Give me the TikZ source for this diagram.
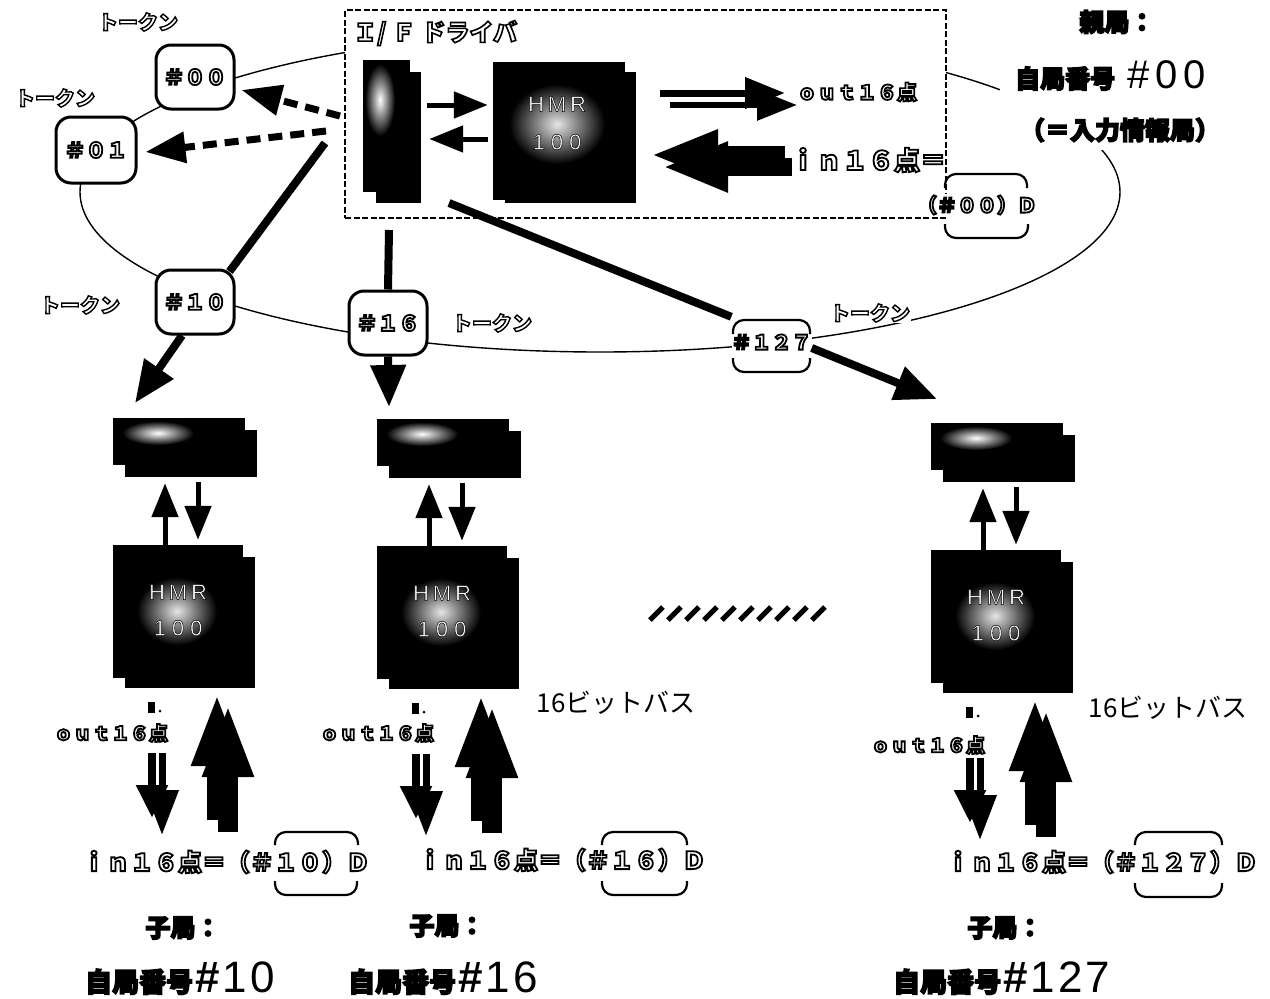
\documentclass[tikz,border=0pt]{standalone}
\usepackage{fontspec}
\setmainfont{Noto Sans CJK JP}
\newfontfamily\hel{Liberation Sans}
\usetikzlibrary{arrows.meta}
\def\olwd{1.8}
\newcommand\olt[1]{{\color{white}\special{pdf:literal direct q 0 G 2 Tr \olwd\space w}#1\special{pdf:literal direct Q}}}
\newcommand\hvy[1]{{\special{pdf:literal direct q 0 G 2 Tr 1.4 w}#1\special{pdf:literal direct Q}}}
\newcommand\tokt{{\def\olwd{1.4}\olt{トークン}}}
\newcommand\fs[1]{\fontsize{#1}{#1}\selectfont}
\tikzset{
  ring/.style={line width=1.4pt},
  stn/.style={draw, line width=3pt, rounded corners=15pt, fill=white, minimum width=78pt, minimum height=64pt, inner sep=0pt, font=\fs{21}\bfseries},
  tok/.style={fill=white, inner sep=1pt, font=\fs{20}\bfseries},
  otxt/.style={inner sep=1pt, font=\fs{20}\bfseries},
  btxt/.style={inner sep=0pt, font=\fs{25}\bfseries},
  blk/.style={fill=black, inner sep=0pt, draw=none},
  pill/.style={line width=2.2pt, rounded corners=11pt},
  fat/.style={line width=8pt},
  fatarrow/.style={line width=8pt, -{Triangle[length=42pt,width=34pt]}},
  dasharrow/.style={line width=7pt, dash pattern=on 14pt off 8pt, -{Triangle[length=40pt,width=30pt]}},
  sarr/.style={line width=5pt, -{Triangle[length=34pt,width=26pt]}},
  bigup/.style={line width=20pt, -{Triangle[length=74pt,width=46pt]}},
  hmrtxt/.style={inner sep=0pt, font=\hel\fs{22}},
  glow/.style={inner color=black!10, outer color=black},
}
\newcommand\hmrA{{\def\olwd{0.5}\olt{H\kern4pt M\kern4pt R}}}
\newcommand\hmrB{{\def\olwd{0.5}\olt{1\kern6pt 0\kern6pt 0}}}
\begin{document}
\begin{tikzpicture}[x=1pt,y=-1pt]
\useasboundingbox (0,0) rectangle (1270,999);
\fill[white] (0,0) rectangle (1270,999);
% token ring
\draw[ring] (600,192) ellipse (520pt and 160pt);
% I/F driver box
\node[draw, dash pattern=on 6pt off 2.5pt, line width=2.2pt, fill=white, minimum width=601pt, minimum height=208pt, inner sep=0pt] (ifbox) at (645.5,114) {};
\node[otxt, anchor=west, font=\fs{24}\bfseries] (iflbl) at (352,33) {{\def\olwd{1.6}\olt{Ｉ/ Ｆ ドライバ}}};
% driver block
\fill[black] (376,72) rectangle (421,203);
\node[blk, minimum width=47pt, minimum height=132pt] (drv) at (386.5,126) {};
\begin{scope}
\clip (drv.south west) rectangle (drv.north east);
\shade[inner color=white, outer color=black] (380,100) ellipse (15pt and 36pt);
\end{scope}
% HMR top
\fill[black] (505,72) rectangle (636,203);
\node[blk, minimum width=132pt, minimum height=138pt] (hmr0) at (559,131) {};
\begin{scope}
\clip (hmr0.south west) rectangle (hmr0.north east);
\shade[glow] (557,124) ellipse (48pt and 40pt);
\end{scope}
\node[hmrtxt] (hmr0a) at (557,104) {\hmrA};
\node[hmrtxt] (hmr0b) at (557,142) {\hmrB};
\draw[sarr] ([xshift=17pt,yshift=21pt]drv.east) -- ([xshift=-5pt,yshift=26pt]hmr0.west);
\draw[sarr] ([xshift=-5pt,yshift=-8pt]hmr0.west) -- ([xshift=19pt,yshift=-13pt]drv.east);
% out / in at top
\node[otxt] (out0) at (857,92) {\olt{ｏｕｔ１６点}};
\node[otxt, font=\fs{26}\bfseries] (in0) at (868,160) {\olt{ｉｎ１６点＝}};
\coordinate (oa) at (660,93); \coordinate (oat) at (785,93);
\coordinate (ob) at (670,105); \coordinate (obt) at (797,105);
\draw[line width=6pt, -{Triangle[length=40pt,width=30pt]}] (ob) -- (obt);
\draw[line width=7pt, -{Triangle[length=40pt,width=30pt]}] (oa) -- (oat);
\coordinate (ia) at (785,155); \coordinate (iat) at (650,155);
\coordinate (ib) at (792,167); \coordinate (ibt) at (662,167);
\draw[line width=18pt, -{Triangle[length=66pt,width=46pt]}] (ib) -- (ibt);
\draw[line width=18pt, -{Triangle[length=68pt,width=46pt]}] (ia) -- (iat);
\node[otxt, fill=white] (d00) at (977,205) {\olt{（＃００）Ｄ}};
\draw[pill] (945,188) -- (945,174) -- (1027,174) -- (1027,188);
\draw[pill] (945,224) -- (945,238) -- (1028,238) -- (1028,224);
% parent labels
\fill[white] (1000,2) rectangle (1245,150);
\node[btxt] (oya) at (1117,22) {\hvy{親局：}};
\node[anchor=base west, inner sep=0pt] (oyaid) at (1015,88) {\hvy{\fs{25}\bfseries 自局番号}\hspace{12pt}{\hel\fs{40}\#\kern6pt 0\kern6pt 0}};
\node[btxt] (oyain) at (1120,130) {\hvy{（＝入力情報局）}};
% stations
\node[stn] (n00) at (195,77) {\olt{＃００}};
\node[stn, minimum width=80pt, minimum height=66pt] (n01) at (96,150) {\olt{＃０１}};
\node[stn] (n10) at (195,302) {\olt{＃１０}};
\node[stn] (n16) at (388,323) {\olt{＃１６}};
\node[fill=white, minimum width=77pt, minimum height=50pt, inner sep=0pt, font=\fs{20}\bfseries] (n127) at (771.5,342) {\olt{＃１２７}};
\draw[pill] (733,334) -- (733,320) -- (810,320) -- (810,334);
\draw[pill] (733,358) -- (733,372) -- (810,372) -- (810,358);
% token labels
\node[tok] (tk1) at (138,22) {\tokt};
\node[tok] (tk2) at (55,98) {\tokt};
\node[tok] (tk3) at (80,305) {\tokt};
\node[tok] (tk4) at (492,323) {\tokt};
\node[tok] (tk5) at (870,313) {\tokt};
% connectors from the driver
\coordinate (d1) at (340,116); \coordinate (d2) at (326,131);
\draw[dasharrow] (d1) -- ([xshift=6pt,yshift=-13pt]n00.east);
\draw[dasharrow] (d2) -- ([xshift=8pt,yshift=-2pt]n01.east);
\coordinate (s10) at (325,143);
\draw[fat] (s10) -- ([xshift=-6pt,yshift=-3pt]n10.north east);
\coordinate (t10) at (135,403);
\draw[fatarrow] ([xshift=-13pt]n10.south) -- (t10);
\coordinate (s16) at (389,230);
\draw[fat] (s16) -- (n16.north);
\coordinate (t16) at (389,407);
\draw[fatarrow] (n16.south) -- (t16);
\coordinate (s127) at (449,203);
\draw[fat] (s127) -- (n127.north west);
\coordinate (t127) at (937,399);
\draw[fatarrow] ([yshift=-6pt]n127.east) -- (t127);
% child stations
\foreach \i/\dx/\dy in {1/0/0, 2/264/1, 3/818/5} {
  \fill[black] ({125+\dx},{430+\dy}) rectangle ({257+\dx},{477+\dy});
  \node[blk, minimum width=132pt, minimum height=47pt] (sb\i) at ({179+\dx},{441.5+\dy}) {};
  \begin{scope}
  \clip (sb\i.south west) rectangle (sb\i.north east);
  \shade[inner color=white, outer color=black] ({158+\dx},{433+\dy}) ellipse (36pt and 12pt);
  \end{scope}
  \fill[black] ({125+\dx},{557+\dy}) rectangle ({255+\dx},{688+\dy});
  \node[blk, minimum width=130pt, minimum height=133pt] (hm\i) at ({178+\dx},{611.5+\dy}) {};
  \begin{scope}
  \clip (hm\i.south west) rectangle (hm\i.north east);
  \shade[glow] ({177+\dx},{611+\dy}) ellipse (40pt and 34pt);
  \end{scope}
  \node[hmrtxt] (hma\i) at ({178+\dx},{592+\dy}) {\hmrA};
  \node[hmrtxt] (hmb\i) at ({178+\dx},{628+\dy}) {\hmrB};
  \draw[sarr] ([xshift=-13pt]hm\i.north) -- ([xshift=-14pt,yshift=-18pt]sb\i.south);
  \draw[sarr] ([xshift=19pt,yshift=-17pt]sb\i.south) -- ([xshift=20pt,yshift=5pt]hm\i.north);
  \fill[black] ({148+\dx},{702+\dy}) rectangle ({155+\dx},{713+\dy});
  \fill[black] ({160+\dx},{711+\dy}) circle (1.5pt);
  \draw[line width=7pt, -{Triangle[length=45pt,width=32pt]}] ({162+\dx},{753+\dy}) -- ({162+\dx},{835+\dy});
  \draw[line width=8pt, -{Triangle[length=33pt,width=30pt]}] ({152+\dx},{753+\dy}) -- ({152+\dx},{818+\dy});
  \draw[bigup] ({228+\dx},{832+\dy}) -- ({228+\dx},{703+\dy});
  \draw[bigup] ({217+\dx},{820+\dy}) -- ({217+\dx},{692+\dy});
}
% hatch
\foreach \k in {0,...,9} \draw[line width=5pt] ({650+18*\k},620) -- ({663+18*\k},607);
% column labels
\node[otxt, font=\fs{19}\bfseries] (out1) at (111,733) {\olt{ｏｕｔ１６点}};
\node[otxt, font=\fs{19}\bfseries] (out2) at (377,733) {\olt{ｏｕｔ１６点}};
\node[otxt, font=\fs{19}\bfseries] (out3) at (928,745) {\olt{ｏｕｔ１６点}};
\node[inner sep=0pt, font=\fs{26}] (bus2) at (616,703) {16ビットバス};
\node[inner sep=0pt, font=\fs{26}] (bus3) at (1168,708) {16ビットバス};
\node[otxt, font=\fs{24}\bfseries] (in1) at (226,862) {\olt{ｉｎ１６点＝（＃１０）Ｄ}};
\node[otxt, font=\fs{24}\bfseries] (in2) at (562,860) {\olt{ｉｎ１６点＝（＃１６）Ｄ}};
\node[otxt, font=\fs{24}\bfseries] (in3) at (1102,862) {\olt{ｉｎ１６点＝（＃１２７）Ｄ}};
\draw[pill] (275,845) -- (275,832) -- (358,832) -- (358,845);
\draw[pill] (275,881) -- (275,895) -- (357,895) -- (357,881);
\draw[pill] (602,845) -- (602,832) -- (687,832) -- (687,845);
\draw[pill] (602,881) -- (602,895) -- (687,895) -- (687,881);
\draw[pill] (1135,845) -- (1135,832) -- (1222,832) -- (1222,845);
\draw[pill] (1135,883) -- (1135,897) -- (1222,897) -- (1222,883);
\node[btxt] (ko1) at (183,928) {\hvy{子局：}};
\node[btxt] (ko2) at (447,926) {\hvy{子局：}};
\node[btxt] (ko3) at (1005,928) {\hvy{子局：}};
\node[anchor=base west, inner sep=0pt] (id1) at (85,992) {\hvy{\fs{27}\bfseries 自局番号}{\hel\fs{44}\kern2pt\textbf{\#}\kern3pt 1\kern3pt 0}};
\node[anchor=base west, inner sep=0pt] (id2) at (348,992) {\hvy{\fs{27}\bfseries 自局番号}{\hel\fs{44}\kern2pt\textbf{\#}\kern3pt 1\kern3pt 6}};
\node[anchor=base west, inner sep=0pt] (id3) at (893,992) {\hvy{\fs{27}\bfseries 自局番号}{\hel\fs{44}\kern2pt\textbf{\#}\kern3pt 1\kern3pt 2\kern3pt 7}};
\end{tikzpicture}
\end{document}
